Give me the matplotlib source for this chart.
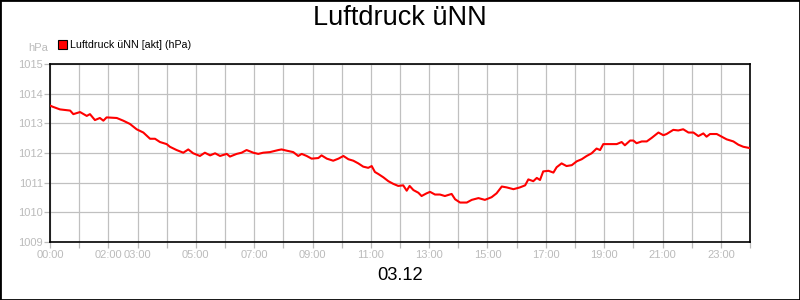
import matplotlib
matplotlib.use('Agg')
import matplotlib.pyplot as plt
from matplotlib.patches import Rectangle

plt.rcParams['font.family'] = ['Liberation Sans', 'DejaVu Sans']

# data, time in hours since 00:00
hours = [0.0, 0.09, 0.34, 0.69, 0.8, 1.03, 1.26, 1.37, 1.54, 1.71, 1.83, 1.94, 2.29, 2.51, 2.74,
         2.97, 3.2, 3.43, 3.6, 3.77, 4.0, 4.11, 4.34, 4.57, 4.74, 4.91, 5.14, 5.31, 5.49,
         5.66, 5.83, 6.06, 6.17, 6.4, 6.57, 6.74, 6.97, 7.14, 7.31, 7.54, 7.83, 7.94, 8.11,
         8.34, 8.51, 8.63, 8.8, 8.97, 9.2, 9.31, 9.49, 9.71, 9.89, 10.06, 10.23, 10.4,
         10.57, 10.74, 10.91, 11.03, 11.14, 11.26, 11.43, 11.6, 11.77, 11.94, 12.11,
         12.23, 12.33, 12.46, 12.63, 12.74, 12.91, 13.03, 13.2, 13.37, 13.54, 13.77,
         13.89, 14.06, 14.29, 14.46, 14.69, 14.91, 15.14, 15.31, 15.49, 15.66, 15.89,
         16.11, 16.29, 16.4, 16.57, 16.69, 16.8, 16.91, 17.09, 17.26, 17.37, 17.54,
         17.71, 17.89, 18.06, 18.23, 18.4, 18.57, 18.74, 18.86, 18.97, 19.2, 19.43,
         19.6, 19.71, 19.89, 20.0, 20.11, 20.29, 20.46, 20.63, 20.86, 21.03, 21.14,
         21.37, 21.54, 21.71, 21.89, 22.06, 22.23, 22.4, 22.51, 22.63, 22.86, 23.03,
         23.2, 23.43, 23.6, 23.77, 23.97]
pressure = [1013.6, 1013.56, 1013.47, 1013.43, 1013.31, 1013.38, 1013.25, 1013.31, 1013.11,
            1013.18, 1013.09, 1013.2, 1013.18, 1013.09, 1012.98, 1012.8, 1012.69, 1012.48,
            1012.48, 1012.37, 1012.3, 1012.21, 1012.1, 1012.01, 1012.12, 1011.99, 1011.9,
            1012.01, 1011.92, 1011.99, 1011.9, 1011.97, 1011.88, 1011.97, 1012.01, 1012.1,
            1012.01, 1011.97, 1012.01, 1012.03, 1012.1, 1012.12, 1012.08, 1012.03, 1011.9,
            1011.97, 1011.9, 1011.81, 1011.83, 1011.92, 1011.81, 1011.74, 1011.81, 1011.9,
            1011.79, 1011.74, 1011.65, 1011.54, 1011.5, 1011.56, 1011.36, 1011.29, 1011.18,
            1011.05, 1010.96, 1010.89, 1010.91, 1010.73, 1010.89, 1010.75, 1010.66, 1010.55,
            1010.64, 1010.69, 1010.6, 1010.6, 1010.55, 1010.62, 1010.44, 1010.33, 1010.33,
            1010.42, 1010.48, 1010.42, 1010.51, 1010.64, 1010.87, 1010.84, 1010.78, 1010.84,
            1010.91, 1011.11, 1011.05, 1011.16, 1011.09, 1011.38, 1011.4, 1011.34, 1011.52,
            1011.65, 1011.56, 1011.59, 1011.72, 1011.79, 1011.9, 1011.99, 1012.15, 1012.1,
            1012.3, 1012.3, 1012.3, 1012.37, 1012.26, 1012.42, 1012.42, 1012.33, 1012.39,
            1012.39, 1012.51, 1012.69, 1012.6, 1012.64, 1012.78, 1012.76, 1012.8, 1012.69,
            1012.69, 1012.57, 1012.66, 1012.55, 1012.64, 1012.64, 1012.55, 1012.46, 1012.39,
            1012.28, 1012.21, 1012.17]

x_ticks = list(range(25))
x_labels = ['00:00', '', '02:00', '03:00', '', '05:00', '', '07:00', '', '09:00', '', '11:00',
            '', '13:00', '', '15:00', '', '17:00', '', '19:00', '', '21:00', '', '23:00', '']
y_ticks = [1009, 1010, 1011, 1012, 1013, 1014, 1015]

title = 'Luftdruck üNN'
series_name = 'Luftdruck üNN [akt] (hPa)'
unit = 'hPa'
date_label = '03.12'

gray = '#bbbbbb'

fig = plt.figure(figsize=(8, 3), dpi=100)
ax = fig.add_axes([50/800, 58/300, 700/800, 178/300])

ax.plot(hours, pressure, color='#ff0000', linewidth=1.5, zorder=3)

ax.set_xlim(0, 24)
ax.set_ylim(1009, 1015)
ax.set_xticks(x_ticks)
ax.set_xticklabels(x_labels)
ax.set_yticks(y_ticks)
ax.grid(True, color='#c0c0c0', linewidth=0.9)
ax.tick_params(colors=gray, labelcolor=gray, labelsize=8, length=4, width=0.9)
ax.tick_params(axis='x', pad=2)
ax.tick_params(axis='y', pad=1)
for s in ax.spines.values():
    s.set_color('black')
    s.set_linewidth(1.2)

fig.text(0.5, 1 - 18/300, title, ha='center', va='center', fontsize=19.5)
fig.text(0.5, 1 - 275/300, date_label, ha='center', va='center', fontsize=13.2)
fig.text(48/800, 1 - 48/300, unit, ha='right', va='center', fontsize=8, color=gray)

# legend box
fig.patches.append(Rectangle((58/800, 1 - 49/300), 9/800, 9/300, transform=fig.transFigure,
                             facecolor='#ff0000', edgecolor='black', linewidth=0.8))
fig.text(70/800, 1 - 44.5/300, series_name, ha='left', va='center', fontsize=7.7)

# frame around the picture
fig.patches.append(Rectangle((0, 0), 1, 1, transform=fig.transFigure, fill=False,
                             edgecolor='black', linewidth=2))

fig.savefig('out.png', dpi=100)
